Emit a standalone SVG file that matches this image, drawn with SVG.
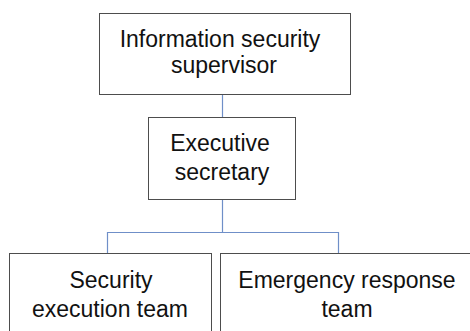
<svg xmlns="http://www.w3.org/2000/svg" width="470" height="331" viewBox="0 0 470 331">
  <style>
    .box { fill: #ffffff; stroke: #4d4d4d; stroke-width: 1; }
    .lbl { font-family: "Liberation Sans", Arial, sans-serif; font-size: 23px; fill: #111111; text-anchor: middle; }
    .conn { fill: none; stroke: #6f8fc8; stroke-width: 1.2; }
  </style>
  <rect width="470" height="331" fill="#ffffff"/>

  <!-- connectors -->
  <g id="connectors">
    <line class="conn" x1="222.5" y1="95" x2="222.5" y2="117"/>
    <polyline class="conn" points="222.5,199 222.5,232.5 107.5,232.5 107.5,253"/>
    <polyline class="conn" points="222.5,232.5 338.5,232.5 338.5,253"/>
  </g>

  <g id="node-supervisor">
    <rect class="box" x="99.5" y="13.5" width="251" height="81"/>
    <text class="lbl" x="220" y="47">Information security</text>
    <text class="lbl" x="224" y="73">supervisor</text>
  </g>

  <g id="node-secretary">
    <rect class="box" x="148.5" y="117.5" width="147" height="82"/>
    <text class="lbl" x="220" y="151">Executive</text>
    <text class="lbl" x="222" y="180">secretary</text>
  </g>

  <g id="node-security-team">
    <rect class="box" x="9.5" y="253.5" width="202" height="90"/>
    <text class="lbl" x="111" y="288">Security</text>
    <text class="lbl" x="110" y="317">execution team</text>
  </g>

  <g id="node-emergency-team">
    <rect class="box" x="220.5" y="253.5" width="255" height="90"/>
    <text class="lbl" x="347" y="288">Emergency response</text>
    <text class="lbl" x="347" y="317">team</text>
  </g>
</svg>
